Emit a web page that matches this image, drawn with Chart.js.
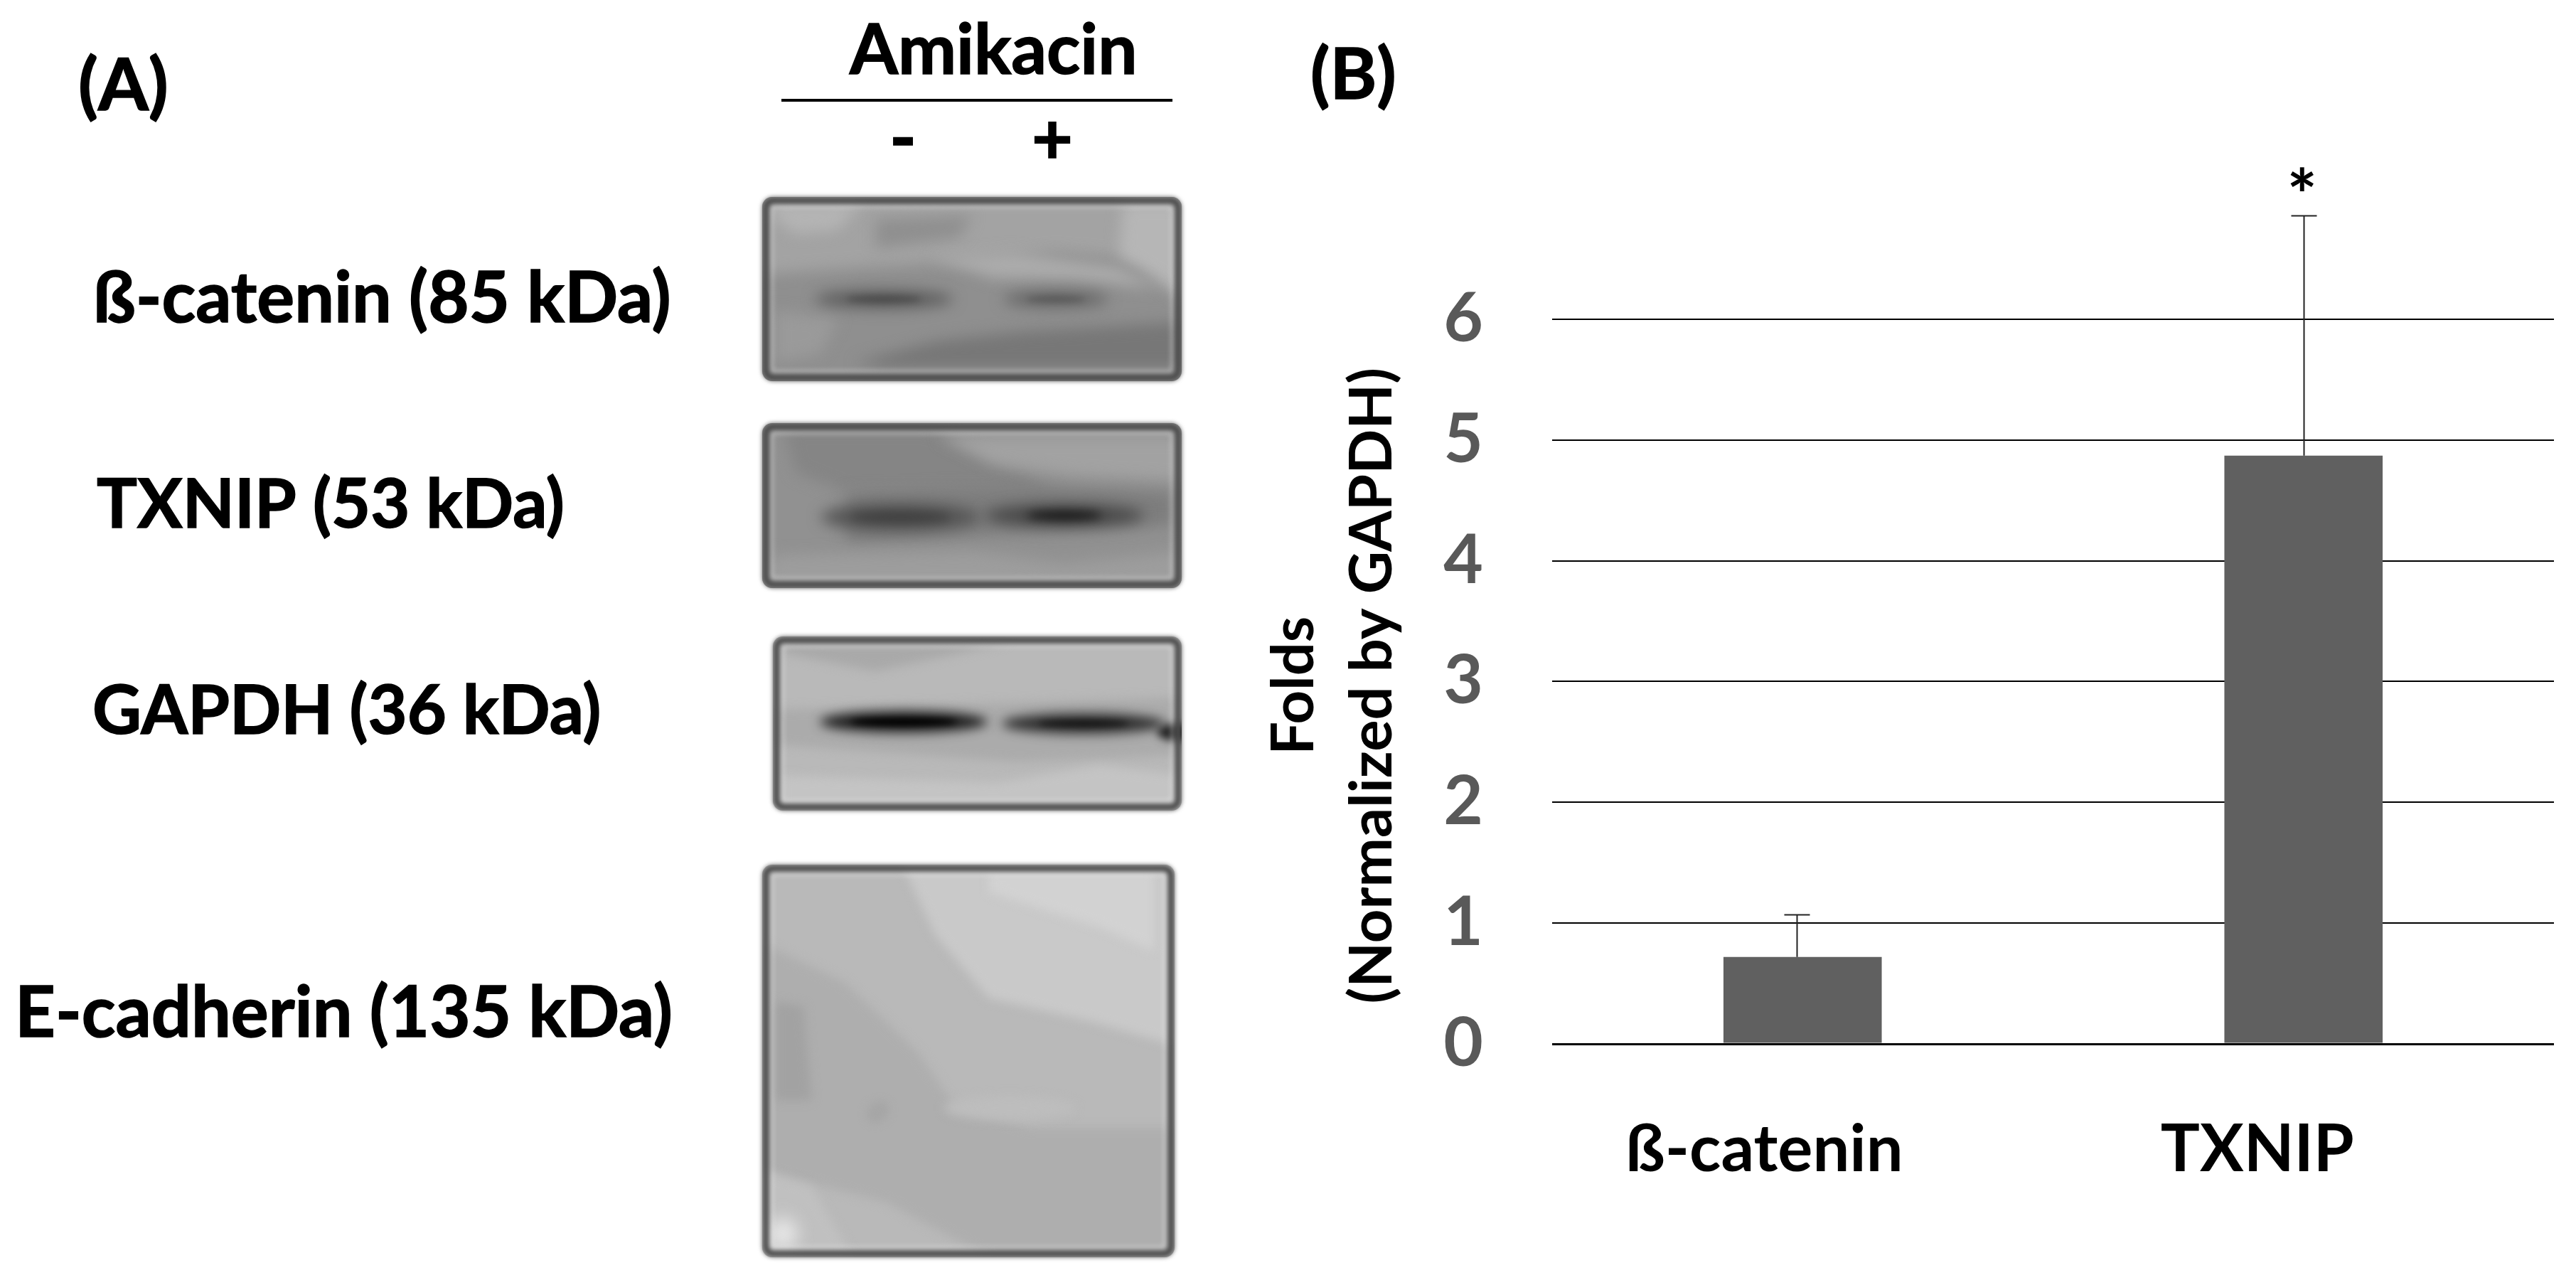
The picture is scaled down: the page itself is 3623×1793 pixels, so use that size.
<!DOCTYPE html>
<html><head><meta charset="utf-8">
<style>html,body{margin:0;padding:0;background:#fff}canvas{display:block}</style>
<script src="https://cdn.jsdelivr.net/npm/chart.js@4"></script>
</head><body><canvas id="c" width="3623" height="1793"></canvas>
<script>
const categories = ['ß-catenin', 'TXNIP'];
const foldValues = [0.72, 4.87];
const errorTops = [1.07, 6.86];
const yTickValues = [0, 1, 2, 3, 4, 5, 6];
const yAxisTitle = ['Folds', '(Normalized by GAPDH)'];
const blotLabels = ['ß-catenin (85 kDa)', 'TXNIP (53 kDa)', 'GAPDH (36 kDa)', 'E-cadherin (135 kDa)'];
const FONT = 'Lato, "Open Sans", sans-serif';

function rr(ctx, x, y, w, h, r) { ctx.beginPath(); ctx.roundRect(x, y, w, h, r); }
function drawBlot(ctx, b) {
  const fx = f => b.x + f * b.w, fy = f => b.y + f * b.h;
  ctx.save();
  rr(ctx, b.x, b.y, b.w, b.h, 14); ctx.clip();
  ctx.fillStyle = b.base; ctx.fillRect(b.x, b.y, b.w, b.h);
  ctx.filter = 'blur(' + (b.soft || 10) + 'px)';
  for (const p of b.polys) {
    ctx.fillStyle = p[0]; ctx.beginPath();
    p[1].forEach((q, i) => i ? ctx.lineTo(fx(q[0]), fy(q[1])) : ctx.moveTo(fx(q[0]), fy(q[1])));
    ctx.closePath(); ctx.fill();
  }
  for (const e of b.bands) {
    ctx.filter = 'blur(' + (e[5] || 9) + 'px)';
    ctx.fillStyle = e[0]; ctx.beginPath();
    ctx.ellipse(fx(e[1]), fy(e[2]), e[3] * b.w, e[4] * b.h, e[6] || 0, 0, Math.PI * 2); ctx.fill();
  }
  ctx.restore();
  ctx.save();
  ctx.filter = 'blur(3px)';
  ctx.strokeStyle = 'rgba(255,255,255,.3)'; ctx.lineWidth = 6;
  rr(ctx, b.x + 13, b.y + 13, b.w - 26, b.h - 26, 6); ctx.stroke();
  ctx.strokeStyle = b.frame || '#4a4a4a'; ctx.lineWidth = 9;
  rr(ctx, b.x + 5, b.y + 5, b.w - 10, b.h - 10, 10); ctx.stroke();
  ctx.restore();
}
const blots = [
 {x:1072,y:277,w:590,h:259,base:'#8f8f8f',polys:[
   ['#a3a3a3',[[0,0],[1,0],[1,.36],[.7,.3],[.5,.35],[.25,.38],[0,.42]]],
   ['#b4b4b4',[[.02,.03],[.24,.03],[.18,.18],[.08,.2],[.03,.12]]],
   ['#8f8f8f',[[.27,.12],[.5,.1],[.47,.22],[.27,.28]]],
   ['#b6b6b6',[[.86,.03],[1,.03],[1,.55],[.92,.42],[.85,.32]]],
   ['#acacac',[[.4,.33],[.6,.3],[.85,.38],[.95,.5],[.75,.45],[.55,.44]]],
   ['#777777',[[.22,.9],[.42,.78],[.62,.73],[1,.68],[1,.93],[.3,.93]]],
   ['#9a9a9a',[[.03,.62],[.18,.66],[.14,.85],[.03,.9]]]],
  bands:[['#5c5c5c',.29,.555,.165,.05,10],['#4a4a4a',.29,.555,.09,.018,5],['#666',.7,.555,.125,.045,10],['#555',.7,.555,.07,.014,5]]},
 {x:1072,y:595,w:590,h:232,base:'#919191',polys:[
   ['#858585',[[.05,.03],[.4,.03],[.62,.3],[.7,.42],[.2,.42],[.08,.3]]],
   ['#a2a2a2',[[.42,.08],[1,.08],[1,.35],[.75,.32],[.55,.25]]],
   ['#7d7d7d',[[.2,.42],[.62,.38],[.98,.42],[.98,.62],[.2,.72]]],
   ['#9d9d9d',[[.03,.8],[.5,.78],[.72,.85],[1,.78],[1,1],[0,1]]]],
  bands:[['#555',.33,.57,.19,.085,10],['#404040',.33,.57,.12,.035,7],['#484848',.72,.56,.19,.07,10],['#161616',.72,.56,.09,.028,7]]},
 {x:1087,y:895,w:575,h:245,base:'#b9b9b9',soft:7,polys:[
   ['#a9a9a9',[[.02,.03],[.58,.03],[.45,.1],[.25,.2],[.14,.15],[.03,.1]]],
   ['#ababab',[[.0,.42],[1,.35],[1,.68],[.6,.72],[0,.62]]],
   ['#c4c4c4',[[.02,.8],[.55,.84],[.8,.74],[1,.8],[1,.98],[.02,.98]]]],
  bands:[['#1a1a1a',.32,.49,.205,.06,8],['#000',.32,.49,.13,.02,4],['#2e2e2e',.76,.5,.2,.058,8],['#161616',.76,.5,.11,.018,4],['#222',.99,.55,.05,.05,6]]},
 {x:1072,y:1216,w:580,h:552,base:'#b9b9b9',soft:7,polys:[
   ['#c9c9c9',[[.34,0],[1,0],[1,.46],[.8,.4],[.55,.34],[.42,.18]]],
   ['#d2d2d2',[[.55,.02],[.95,.02],[.95,.22],[.82,.16],[.55,.07]]],
   ['#aeaeae',[[0,.2],[.2,.3],[.38,.48],[.47,.62],[.65,.67],[1,.67],[1,1],[.55,1],[.3,.86],[0,.78]]],
   ['#a2a2a2',[[.03,.35],[.1,.36],[.12,.6],[.03,.6]]],
   ['#c0c0c0',[[0,.78],[.12,.82],[.22,1],[0,1]]]],
  bands:[['#e8e8e8',.05,.94,.035,.04,12],['#a6a6a6',.28,.63,.03,.025,6,-.7],['#bdbdbd',.6,.62,.16,.03,7]]}
];

function heavyText(ctx, text, x, y, size) {
  ctx.font = 'bold ' + size + 'px ' + FONT;
  ctx.lineWidth = 1.5; ctx.strokeStyle = '#000';
  ctx.fillText(text, x, y); ctx.strokeText(text, x, y);
}
const panelA = {
  id: 'panelA',
  afterDraw(chart) {
    const ctx = chart.ctx;
    blots.forEach(b => drawBlot(ctx, b));
    ctx.save();
    ctx.fillStyle = '#000';
    ctx.textBaseline = 'middle';
    ctx.textAlign = 'left';
    heavyText(ctx, '(A)', 110, 122, 102);
    heavyText(ctx, '(B)', 1843, 107, 100);
    heavyText(ctx, blotLabels[0], 131, 421, 99);
    heavyText(ctx, blotLabels[1], 136, 711, 95);
    heavyText(ctx, blotLabels[2], 130, 1001, 95);
    heavyText(ctx, blotLabels[3], 21, 1426, 99);
    heavyText(ctx, 'Amikacin', 1195, 72, 98);
    ctx.textAlign = 'center';
    heavyText(ctx, '-', 1270, 196, 102);
    heavyText(ctx, '+', 1480, 198, 100);
    ctx.fillRect(1099, 139, 550, 4);
    ctx.restore();
  }
};
const errorBars = {
  id: 'errorBars',
  afterDatasetsDraw(chart) {
    const {ctx, scales: {x, y}} = chart;
    ctx.save();
    ctx.strokeStyle = '#222'; ctx.lineWidth = 2;
    errorTops.forEach((v, i) => {
      const px = Math.round(x.getPixelForValue(i)) + (i === 0 ? -8 : 0) + .5;
      const t = Math.round(y.getPixelForValue(v)) + .5, b = y.getPixelForValue(foldValues[i]);
      ctx.beginPath(); ctx.moveTo(px, b); ctx.lineTo(px, t);
      ctx.moveTo(px - 18, t); ctx.lineTo(px + 18, t); ctx.stroke();
    });
    ctx.fillStyle = '#000'; ctx.font = 'bold 100px ' + FONT;
    ctx.textAlign = 'center'; ctx.textBaseline = 'middle';
    ctx.fillText('*', x.getPixelForValue(1) - 2, y.getPixelForValue(errorTops[1]) - 24);
    ctx.restore();
  }
};
new Chart(document.getElementById('c'), {
  type: 'bar',
  data: { labels: categories, datasets: [{ data: foldValues, backgroundColor: '#606060', barPercentage: 0.316, categoryPercentage: 1 }] },
  plugins: [errorBars, panelA],
  options: {
    responsive: false, animation: false, devicePixelRatio: 1,
    layout: { padding: { left: 1765, right: 31, top: 279, bottom: 0 } },
    plugins: { legend: { display: false }, tooltip: { enabled: false }, title: { display: false } },
    scales: {
      x: {
        grid: { display: false }, border: { display: false },
        afterFit(s) { s.height = 325; },
        ticks: {
          color: '#000', maxRotation: 0, padding: 86, labelOffset: -65,
          font: { family: FONT, weight: 'bold', size: 92 },
          callback(v, i) { return (i === 0 ? ' ' : '') + categories[i]; }
        }
      },
      y: {
        min: 0, max: 7,
        afterBuildTicks(s) { s.ticks = yTickValues.map(value => ({ value })); },
        afterFit(s) { s.width = 418; },
        grid: { color: '#000', lineWidth: c => c.tick && c.tick.value === 0 ? 3 : 2, drawTicks: false },
        border: { display: false },
        title: { display: true, text: yAxisTitle.map(t => t + '         '), color: '#000', padding: 0,
                 font: { family: FONT, weight: 'bold', size: 83, lineHeight: 1.33 } },
        ticks: { color: '#595959', padding: 97, font: { family: FONT, weight: 'bold', size: 96 } }
      }
    }
  }
});
</script></body></html>
